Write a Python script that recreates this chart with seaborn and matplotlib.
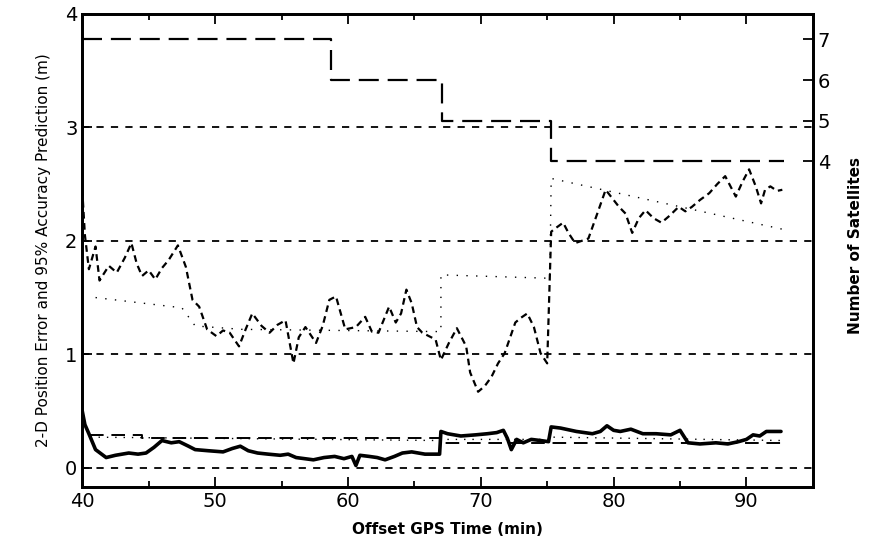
import numpy as np
import pandas as pd
import matplotlib
matplotlib.use('Agg')
import matplotlib.pyplot as plt
import seaborn as sns

# ------------------------------
# Data
# ------------------------------
# number of satellites in view (step changes)
sat_time = [40.0, 58.7, 67.1, 75.3, 92.8]
sat_count = [7, 6, 5, 4, 4]

# 2-D position error, upper trace (m)
err_time = [40.0, 40.2, 40.5, 41.0, 41.3, 42.0, 42.6, 43.2, 43.7, 44.1, 44.5, 45.0, 45.5,
            46.0, 46.5, 47.2, 47.8, 48.3, 48.8, 49.4, 50.1, 50.6, 51.1, 51.8, 52.3, 52.8,
            53.5, 54.1, 54.7, 55.3, 55.9, 56.3, 56.8, 57.6, 58.1, 58.6, 59.1, 59.8, 60.6,
            61.3, 61.8, 62.3, 63.1, 63.6, 64.0, 64.4, 64.8, 65.2, 65.6, 66.1, 66.6, 67.0,
            67.6, 68.2, 68.9, 69.2, 69.8, 70.3, 70.8, 71.3, 71.8, 72.6, 73.0, 73.5, 74.0,
            74.5, 75.0, 75.3, 75.5, 76.2, 76.6, 77.1, 78.1, 78.8, 79.4, 79.8, 80.4, 80.9,
            81.4, 81.9, 82.4, 83.0, 83.6, 84.2, 84.9, 85.4, 85.9, 86.5, 87.2, 87.8, 88.4,
            88.8, 89.2, 89.7, 90.2, 90.7, 91.1, 91.4, 91.8, 92.3, 92.7]
err_upper = [2.45, 2.05, 1.75, 1.95, 1.65, 1.78, 1.72, 1.85, 1.98, 1.80, 1.69, 1.74, 1.66,
             1.76, 1.83, 1.96, 1.77, 1.48, 1.42, 1.22, 1.16, 1.21, 1.19, 1.07, 1.22, 1.36,
             1.25, 1.19, 1.26, 1.30, 0.92, 1.15, 1.24, 1.10, 1.25, 1.48, 1.51, 1.22, 1.24,
             1.33, 1.20, 1.19, 1.42, 1.28, 1.36, 1.57, 1.45, 1.24, 1.19, 1.16, 1.13, 0.95,
             1.10, 1.23, 1.07, 0.84, 0.67, 0.72, 0.80, 0.92, 1.01, 1.28, 1.32, 1.36, 1.24,
             1.01, 0.92, 2.08, 2.10, 2.16, 2.07, 1.98, 2.02, 2.25, 2.45, 2.39, 2.30, 2.24,
             2.07, 2.20, 2.27, 2.20, 2.16, 2.22, 2.30, 2.26, 2.30, 2.36, 2.42, 2.50, 2.57,
             2.48, 2.39, 2.52, 2.63, 2.48, 2.33, 2.45, 2.48, 2.44, 2.45]

# 95% accuracy prediction, upper trace (m)
pred_time = [41.0, 47.5, 48.5, 52.0, 67.0, 67.0, 75.2, 75.3, 92.8]
pred_upper = [1.50, 1.41, 1.25, 1.22, 1.20, 1.70, 1.67, 2.55, 2.10]

# 2-D position error, lower trace (m)
low_time = [40.0, 40.2, 40.5, 41.0, 41.8, 42.5, 43.5, 44.2, 44.8, 45.4, 46.0, 46.7, 47.3,
            48.0, 48.5, 49.5, 50.6, 51.3, 51.9, 52.5, 53.2, 54.0, 54.9, 55.5, 56.1, 57.4,
            58.2, 59.0, 59.7, 60.3, 60.6, 60.9, 61.6, 62.2, 62.8, 63.5, 64.1, 64.8, 65.8,
            66.9, 67.0, 67.5, 68.5, 69.6, 70.5, 71.2, 71.7, 72.0, 72.3, 72.7, 73.2, 73.8,
            74.5, 75.1, 75.3, 76.0, 77.2, 78.4, 79.0, 79.5, 80.0, 80.5, 81.3, 82.2, 83.2,
            84.3, 85.0, 85.6, 86.5, 87.7, 88.6, 89.4, 90.0, 90.5, 91.0, 91.5, 92.6]
err_lower = [0.50, 0.38, 0.30, 0.16, 0.09, 0.11, 0.13, 0.12, 0.13, 0.18, 0.24, 0.22, 0.23,
             0.19, 0.16, 0.15, 0.14, 0.17, 0.19, 0.15, 0.13, 0.12, 0.11, 0.12, 0.09, 0.07,
             0.09, 0.10, 0.08, 0.10, 0.02, 0.11, 0.10, 0.09, 0.07, 0.10, 0.13, 0.14, 0.12,
             0.12, 0.32, 0.30, 0.28, 0.29, 0.30, 0.31, 0.33, 0.26, 0.16, 0.25, 0.22, 0.25,
             0.24, 0.23, 0.36, 0.35, 0.32, 0.30, 0.32, 0.37, 0.33, 0.32, 0.34, 0.30, 0.30,
             0.29, 0.33, 0.22, 0.21, 0.22, 0.21, 0.23, 0.25, 0.29, 0.28, 0.32, 0.32]

# lower prediction traces (m)
low_dash_time = [40.6, 44.5, 44.5, 67.0, 67.0, 92.8]
low_dash = [0.29, 0.29, 0.26, 0.26, 0.22, 0.22]
low_dot_time = [40.6, 67.0, 67.0, 75.3, 75.3, 92.8]
low_dot = [0.27, 0.24, 0.25, 0.25, 0.27, 0.24]

# ------------------------------
# Plot
# ------------------------------
sns.set_style('ticks')
plt.rcParams['font.family'] = ['DejaVu Sans']
plt.rcParams['text.color'] = 'black'
plt.rcParams['axes.labelcolor'] = 'black'
plt.rcParams['xtick.color'] = 'black'
plt.rcParams['ytick.color'] = 'black'

fig = plt.figure(figsize=(8.75, 5.56), dpi=100)
ax = fig.add_axes([0.094, 0.124, 0.835, 0.851])

line_kw = dict(color='black', estimator=None, sort=False, legend=False)

sns.lineplot(x=err_time, y=err_upper, ax=ax, lw=1.6, **line_kw)
ax.lines[-1].set_dashes((3, 2))
sns.lineplot(x=pred_time, y=pred_upper, ax=ax, lw=1.0, **line_kw)
ax.lines[-1].set_dashes((1, 6))
sns.lineplot(x=low_time, y=err_lower, ax=ax, lw=2.6, **line_kw)
sns.lineplot(x=low_dash_time, y=low_dash, ax=ax, lw=1.4, **line_kw)
ax.lines[-1].set_dashes((7, 4))
sns.lineplot(x=low_dot_time, y=low_dot, ax=ax, lw=1.0, **line_kw)
ax.lines[-1].set_dashes((1, 5))

ax.set_xlim(40, 95)
ax.set_ylim(-0.17, 4)
ax.set_xticks([40, 50, 60, 70, 80, 90])
ax.set_xticks(np.arange(45, 95, 10), minor=True)
ax.set_yticks([0, 1, 2, 3, 4])
ax.yaxis.grid(True, color='black', lw=1.3, linestyle=(0, (4, 4)))
ax.tick_params(which='both', direction='in', top=True, labelsize=14, width=1.3)
ax.tick_params(which='major', length=7)
ax.tick_params(which='minor', length=4)
for s in ax.spines.values():
    s.set_linewidth(2)
    s.set_color('black')

ax.set_xlabel('Offset GPS Time (min)', fontsize=11, fontweight='bold', labelpad=8)
ax.set_ylabel('2-D Position Error and 95% Accuracy Prediction (m)', fontsize=11, labelpad=10)

# satellites on the right axis
ax2 = ax.twinx()
sns.lineplot(x=sat_time, y=sat_count, ax=ax2, lw=1.6, drawstyle='steps-post', **line_kw)
ax2.lines[-1].set_dashes((9, 4))
ax2.set_ylim(-4.02, 7.63)
ax2.set_yticks([4, 5, 6, 7])
ax2.tick_params(direction='in', labelsize=14, length=7, width=1.3)
for s in ax2.spines.values():
    s.set_linewidth(2)
    s.set_color('black')
ax2.set_ylabel('Number of Satellites', fontsize=11, fontweight='bold')
ax2.yaxis.set_label_coords(1.048, 0.51)

plt.savefig('out.png', dpi=100)
plt.close()
